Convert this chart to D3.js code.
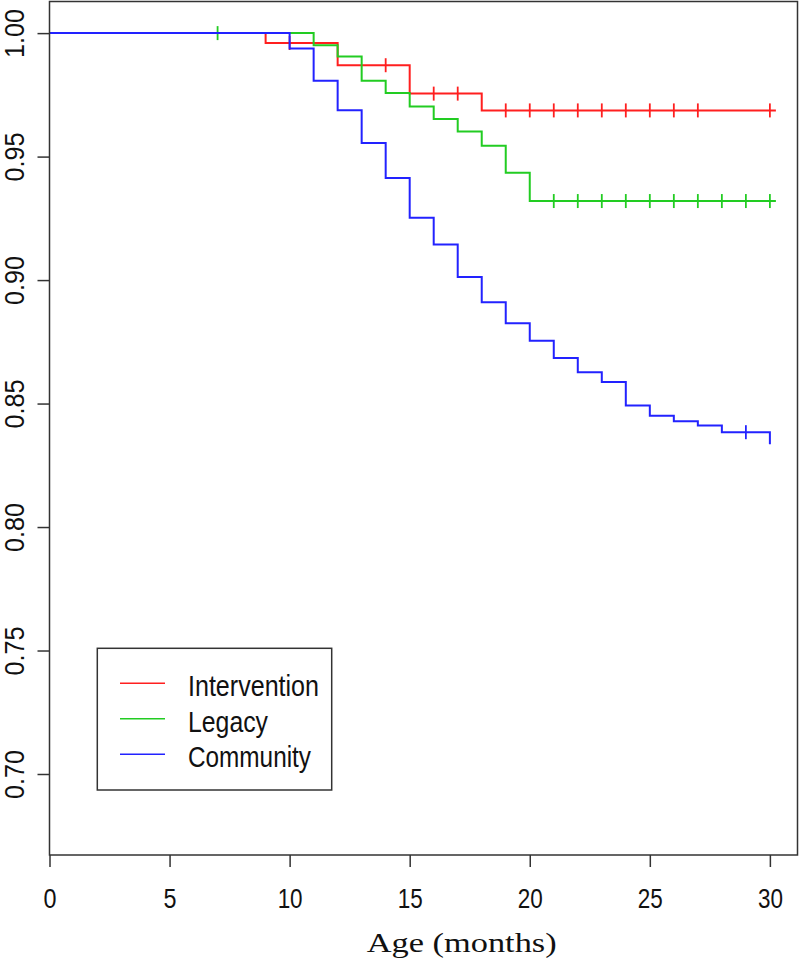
<!DOCTYPE html>
<html>
<head>
<meta charset="utf-8">
<script src="https://cdn.jsdelivr.net/npm/d3@7"></script>
<style>
  html, body { margin: 0; padding: 0; background: #fff; }
  svg { display: block; }
</style>
</head>
<body>
<svg id="chart" width="800" height="961"></svg>
<script>
// ---- data ----
const seriesNames = ["Intervention", "Legacy", "Community"];
const seriesColors = ["#ff1f1f", "#22cc22", "#2222ff"];

const interventionTimes = [9, 12, 15, 18];
const interventionSurv  = [0.996, 0.987, 0.9755, 0.9687];
const interventionCensor = [10, 14, 16, 17, 19, 20, 21, 22, 23, 24, 25, 26, 27, 30];

const legacyTimes = [11, 12, 13, 14, 15, 16, 17, 18, 19, 20];
const legacySurv  = [0.9951, 0.9905, 0.9807, 0.9757, 0.9703, 0.9652, 0.9602, 0.9544, 0.9435, 0.932];
const legacyCensor = [7, 21, 22, 23, 24, 25, 26, 27, 28, 29, 30];

const communityTimes = [10, 11, 12, 13, 14, 15, 16, 17, 18, 19, 20, 21, 22, 23, 24, 25, 26, 27, 28, 30];
const communitySurv  = [0.9938, 0.9807, 0.9688, 0.9555, 0.9413, 0.9252, 0.9144, 0.9012, 0.891, 0.8825,
                        0.8754, 0.8684, 0.8627, 0.8587, 0.8492, 0.8451, 0.8428, 0.8411, 0.8384, 0.8335];
const communityCensor = [29];

const followUpEnd = [30.25, 30.25, 30];

const xTicks = [0, 5, 10, 15, 20, 25, 30];
const yTicks = [0.70, 0.75, 0.80, 0.85, 0.90, 0.95, 1.00];
const xTitle = "Age (months)";

// ---- layout ----
const svg = d3.select("#chart");
const mLeft = 49.5, mRight = 797.5, mTop = 1.5, mBottom = 855;

const x = d3.scaleLinear().domain([0, 31.15]).range([mLeft, mRight]);
const y = d3.scaleLinear().domain([0.6672, 1.0128]).range([mBottom, mTop]);

const series = [
  {name: seriesNames[0], color: seriesColors[0], times: interventionTimes, surv: interventionSurv, censor: interventionCensor, end: followUpEnd[0]},
  {name: seriesNames[1], color: seriesColors[1], times: legacyTimes, surv: legacySurv, censor: legacyCensor, end: followUpEnd[1]},
  {name: seriesNames[2], color: seriesColors[2], times: communityTimes, surv: communitySurv, censor: communityCensor, end: followUpEnd[2]}
];

function survAt(s, t) {
  let v = 1;
  for (let i = 0; i < s.times.length; i++) if (s.times[i] <= t) v = s.surv[i];
  return v;
}

const line = d3.line().x(d => x(d[0])).y(d => y(d[1])).curve(d3.curveStepAfter);

const plot = svg.append("g");
series.forEach(s => {
  const pts = [[0, 1]];
  s.times.forEach((t, i) => pts.push([t, s.surv[i]]));
  const lastT = pts[pts.length - 1][0];
  if (s.end > lastT) pts.push([s.end, pts[pts.length - 1][1]]);
  plot.append("path")
    .attr("d", line(pts))
    .attr("fill", "none")
    .attr("stroke", s.color)
    .attr("stroke-width", 2);
  plot.selectAll(null).data(s.censor).enter().append("line")
    .attr("x1", d => x(d)).attr("x2", d => x(d))
    .attr("y1", d => y(survAt(s, d)) - 7)
    .attr("y2", d => y(survAt(s, d)) + 7)
    .attr("stroke", s.color)
    .attr("stroke-width", 1.8);
});

// ---- frame ----
svg.append("rect")
  .attr("x", mLeft).attr("y", mTop)
  .attr("width", mRight - mLeft).attr("height", mBottom - mTop)
  .attr("fill", "none").attr("stroke", "#333").attr("stroke-width", 1.5);

// ---- x axis ----
const xAxis = d3.axisBottom(x).tickValues(xTicks).tickSize(12).tickPadding(0).tickFormat(d3.format("d"));
const gx = svg.append("g").attr("transform", `translate(0,${mBottom})`).call(xAxis);
gx.select(".domain").remove();
gx.selectAll(".tick line").attr("stroke", "#333").attr("stroke-width", 1.5);
gx.selectAll(".tick text")
  .attr("dy", null)
  .attr("y", 53)
  .attr("fill", "#111")
  .style("font-family", "Arial, 'Liberation Sans', sans-serif")
  .style("font-size", "27px")
  .attr("textLength", d => (String(d).length === 1 ? 13 : 25))
  .attr("lengthAdjust", "spacingAndGlyphs");

// ---- y axis ----
const yAxis = d3.axisLeft(y).tickValues(yTicks).tickSize(12).tickPadding(0).tickFormat(d3.format(".2f"));
const gy = svg.append("g").attr("transform", `translate(${mLeft},0)`).call(yAxis);
gy.select(".domain").remove();
gy.selectAll(".tick line").attr("stroke", "#333").attr("stroke-width", 1.5);
gy.selectAll(".tick text")
  .attr("x", null).attr("dy", null)
  .attr("text-anchor", "middle")
  .attr("transform", "translate(-26,0) rotate(-90)")
  .attr("fill", "#111")
  .style("font-family", "Arial, 'Liberation Sans', sans-serif")
  .style("font-size", "27px")
  .attr("textLength", 49)
  .attr("lengthAdjust", "spacingAndGlyphs");

// ---- x title ----
svg.append("text")
  .attr("x", 461.7).attr("y", 952)
  .attr("text-anchor", "middle")
  .attr("fill", "#111")
  .style("font-family", "'Times New Roman', 'Liberation Serif', serif")
  .style("font-size", "28px")
  .attr("textLength", 190)
  .attr("lengthAdjust", "spacingAndGlyphs")
  .text(xTitle);

// ---- legend ----
const legend = svg.append("g");
legend.append("rect")
  .attr("x", 97.3).attr("y", 648.3)
  .attr("width", 234.4).attr("height", 141.7)
  .attr("fill", "#fff").attr("stroke", "#333").attr("stroke-width", 1.5);
const legendWidths = [131, 80, 123];
series.forEach((s, i) => {
  const ly = 683.3 + i * 35.5;
  legend.append("line")
    .attr("x1", 120).attr("x2", 165)
    .attr("y1", ly).attr("y2", ly)
    .attr("stroke", s.color).attr("stroke-width", 1.5);
  legend.append("text")
    .attr("x", 188).attr("y", ly + 13)
    .attr("fill", "#111")
    .style("font-family", "Arial, 'Liberation Sans', sans-serif")
    .style("font-size", "29px")
    .attr("textLength", legendWidths[i])
    .attr("lengthAdjust", "spacingAndGlyphs")
    .text(s.name);
});
</script>
</body>
</html>
